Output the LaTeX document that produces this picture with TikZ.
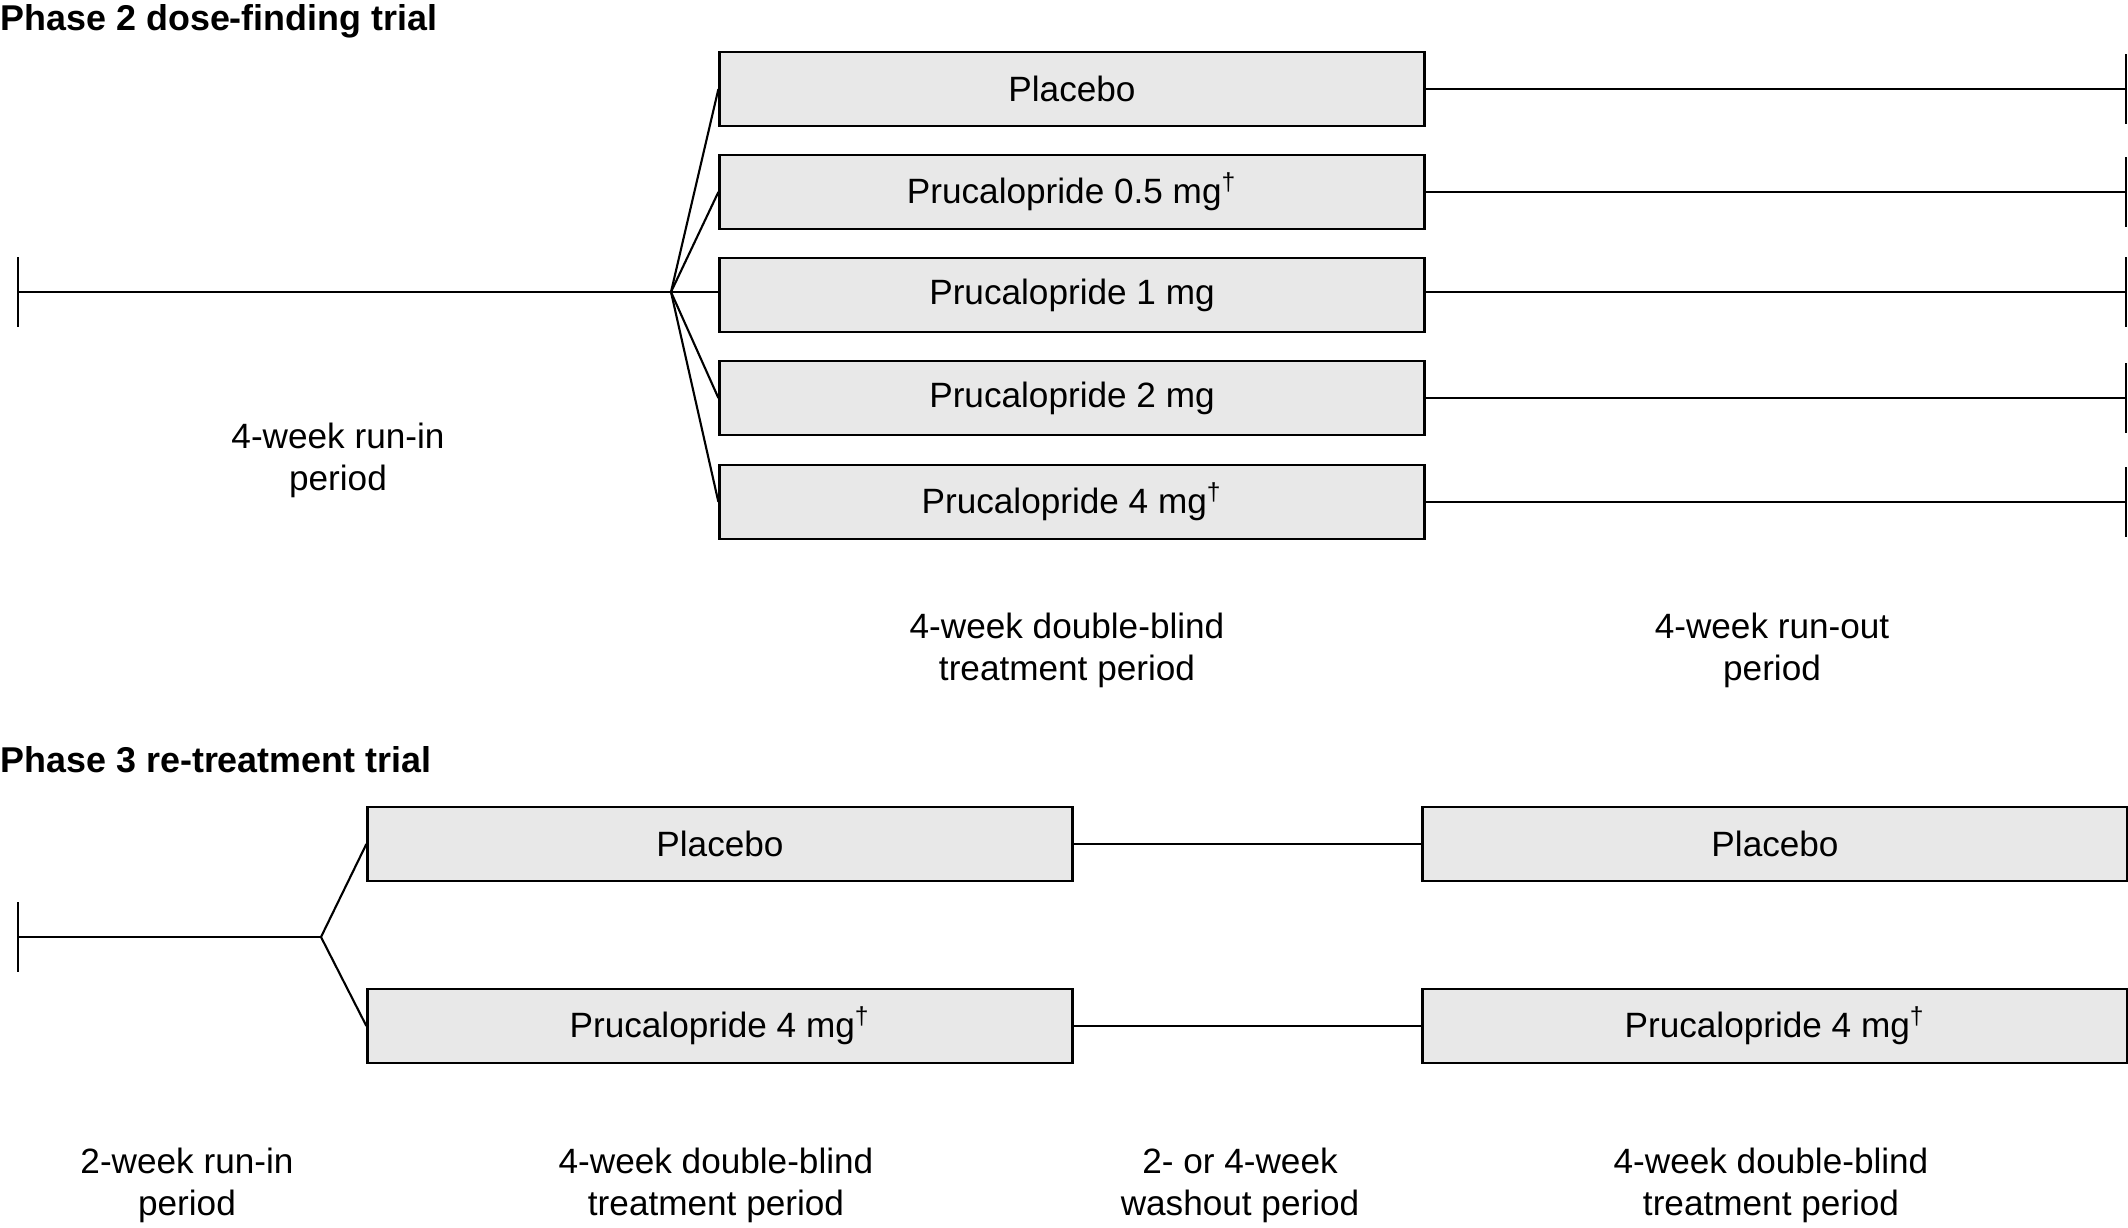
\documentclass[tikz,border=0pt]{standalone}
\usepackage{fontspec}
\setmainfont{Liberation Sans}
\definecolor{armGray}{HTML}{E8E8E8}

\begin{document}
\begin{tikzpicture}[x = 0.01cm, y = -0.01cm]
	\tikzstyle{armStyle} = [shape = rectangle, draw, line width = 0.8pt, fill = armGray, minimum width = 7.04cm, minimum height = 0.74cm, inner sep = 0pt]
	\tikzstyle{lineStyle} = [line width = 0.6pt]
	\tikzstyle{tickStyle} = [line width = 0.8pt]
	\tikzstyle{titleStyle} = [anchor = base west, inner sep = 0pt, font = \fontsize{10.2}{12}\bfseries]
	\tikzstyle{periodStyle} = [align = center, inner sep = 0pt, font = \fontsize{10}{12}\selectfont]
	\useasboundingbox (0, 0) rectangle (2128, 1227);
	% phase 2
	\node[titleStyle] (t2) at (0, 30) {Phase 2 dose-finding trial};
	\node[armStyle] (a0) at (1072, 89) {Placebo};
	\node[armStyle] (a1) at (1072, 192) {Prucalopride 0.5 mg\textsuperscript{†}};
	\node[armStyle] (a2) at (1072, 295) {Prucalopride 1 mg};
	\node[armStyle] (a3) at (1072, 398) {Prucalopride 2 mg};
	\node[armStyle] (a4) at (1072, 502) {Prucalopride 4 mg\textsuperscript{†}};
	\coordinate (s2) at (18, 292);
	\coordinate (k2) at (671, 292);
	\coordinate (e0) at (2126, 89);
	\coordinate (e1) at (2126, 192);
	\coordinate (e2) at (2126, 292);
	\coordinate (e3) at (2126, 398);
	\coordinate (e4) at (2126, 502);
	\draw[lineStyle] (s2) -- (k2);
	\draw[lineStyle] (k2) -- (a0.west);
	\draw[lineStyle] (k2) -- (a1.west);
	\draw[lineStyle] (k2) -- (a2.west |- k2);
	\draw[lineStyle] (k2) -- (a3.west);
	\draw[lineStyle] (k2) -- (a4.west);
	\draw[lineStyle] (a0.east) -- (e0);
	\draw[lineStyle] (a1.east) -- (e1);
	\draw[lineStyle] (a2.east |- e2) -- (e2);
	\draw[lineStyle] (a3.east) -- (e3);
	\draw[lineStyle] (a4.east) -- (e4);
	\draw[tickStyle] (s2) ++(0, -35) -- ++(0, 70);
	\draw[tickStyle] (e0) ++(0, -35) -- ++(0, 70);
	\draw[tickStyle] (e1) ++(0, -35) -- ++(0, 70);
	\draw[tickStyle] (e2) ++(0, -35) -- ++(0, 70);
	\draw[tickStyle] (e3) ++(0, -35) -- ++(0, 70);
	\draw[tickStyle] (e4) ++(0, -35) -- ++(0, 70);
	\node[periodStyle] (p0) at (338, 460) {4-week run-in\\period};
	\node[periodStyle] (p1) at (1067, 650) {4-week double-blind\\treatment period};
	\node[periodStyle] (p2) at (1772, 650) {4-week run-out\\period};
	% phase 3
	\node[titleStyle] (t3) at (0, 772) {Phase 3 re-treatment trial};
	\node[armStyle] (b0) at (720, 844) {Placebo};
	\node[armStyle] (b1) at (720, 1026) {Prucalopride 4 mg\textsuperscript{†}};
	\node[armStyle] (c0) at (1775, 844) {Placebo};
	\node[armStyle] (c1) at (1775, 1026) {Prucalopride 4 mg\textsuperscript{†}};
	\coordinate (s3) at (18, 937);
	\coordinate (k3) at (321, 937);
	\draw[lineStyle] (s3) -- (k3);
	\draw[lineStyle] (k3) -- (b0.west);
	\draw[lineStyle] (k3) -- (b1.west);
	\draw[lineStyle] (b0.east) -- (c0.west);
	\draw[lineStyle] (b1.east) -- (c1.west);
	\draw[tickStyle] (s3) ++(0, -35) -- ++(0, 70);
	\node[periodStyle] (q0) at (187, 1185) {2-week run-in\\period};
	\node[periodStyle] (q1) at (716, 1185) {4-week double-blind\\treatment period};
	\node[periodStyle] (q2) at (1240, 1185) {2- or 4-week\\washout period};
	\node[periodStyle] (q3) at (1771, 1185) {4-week double-blind\\treatment period};
\end{tikzpicture}
\end{document}
